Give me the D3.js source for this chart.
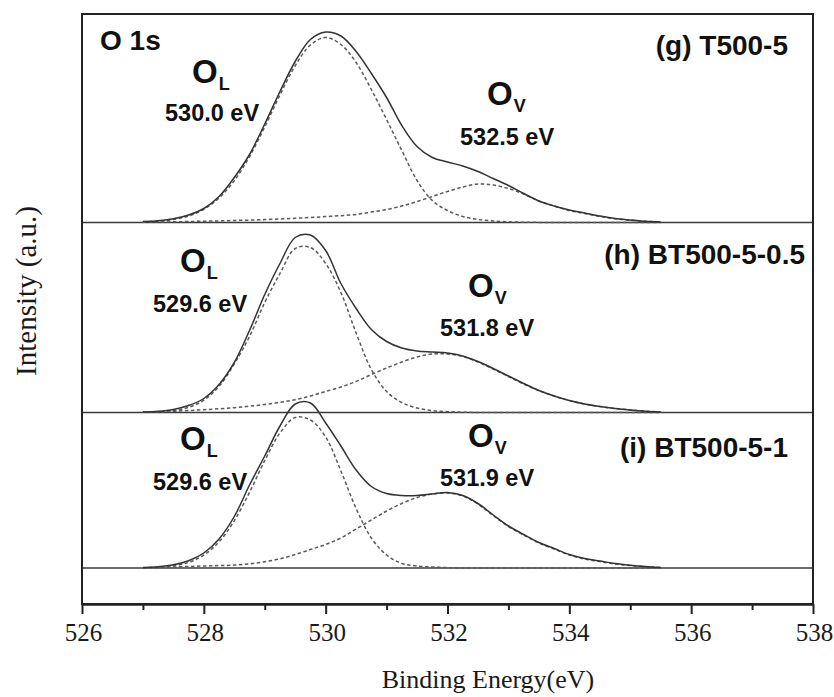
<!DOCTYPE html>
<html>
<head>
<meta charset="utf-8">
<script src="https://cdn.jsdelivr.net/npm/d3@7"></script>
<style>
  html, body { margin: 0; padding: 0; background: #ffffff; }
  svg { display: block; }
</style>
</head>
<body>
<svg id="chart" width="834" height="697"></svg>
<script>
// ---- data -------------------------------------------------------------
// Binding energy grid (eV)
const energy = [527.0, 527.25, 527.5, 527.75, 528.0, 528.25, 528.5, 528.75, 529.0, 529.25,
                529.5, 529.75, 530.0, 530.25, 530.5, 530.75, 531.0, 531.25, 531.5, 531.75,
                532.0, 532.25, 532.5, 532.75, 533.0, 533.25, 533.5, 533.75, 534.0, 534.25,
                534.5, 534.75, 535.0, 535.25, 535.5];

// Sample names, top to bottom
const sampleLabels = ["(g) T500-5", "(h) BT500-5-0.5", "(i) BT500-5-1"];
// Fitted peak positions
const latticePeakLabels = ["530.0 eV", "529.6 eV", "529.6 eV"];
const vacancyPeakLabels = ["532.5 eV", "531.8 eV", "531.9 eV"];
// Vertical stacking offset of each spectrum (a.u.)
const stackOffset = [381.5, 191.5, 36];

// (g) T500-5
const envelopeG = [1, 1.8, 3.7, 7.5, 14, 26, 45, 68, 98.5, 131,
                   161, 183, 190.5, 186.5, 171, 149, 125, 97, 76, 65,
                   60.5, 56.5, 51, 44, 37, 29, 21.5, 16.5, 12.5, 9.5,
                   6.5, 4, 2.5, 1.2, 0.5];
const latticeG  = [0.5, 1.3, 3.0, 6.5, 13.2, 24.5, 41.9, 65.9, 95.6, 127.6,
                   156.8, 177.5, 185, 178, 160, 133, 103, 72, 42, 22,
                   12, 6, 3, 1.5, 0.7, 0.3, 0.1, 0, 0, 0,
                   0, 0, 0, 0, 0];
const vacancyG  = [0.3, 0.5, 0.7, 1.0, 1.3, 1.6, 2.0, 2.4, 2.9, 3.5,
                   4.2, 5.0, 5.9, 6.8, 8.0, 10.5, 13, 16.5, 21, 26,
                   31, 35.5, 38.5, 37.5, 34, 28.5, 21.5, 16.5, 12, 9,
                   6, 3.8, 2.3, 1.2, 0.5];

// (h) BT500-5-0.5
const envelopeH = [0.5, 1.2, 3.1, 7, 14, 28, 50, 82, 118, 149,
                   175, 177.5, 162, 129, 104, 83, 71, 64.5, 61.5, 60.5,
                   59.5, 56.5, 51, 44, 36.5, 29, 22, 16.5, 12, 8.5,
                   6, 4, 2.5, 1.3, 0.5];
const latticeH  = [0.2, 0.6, 1.9, 5.1, 12.3, 26.1, 48.7, 76, 110, 139,
                   164, 165, 149, 120, 79.5, 43, 21, 10, 4.5, 1.8,
                   0.8, 0.3, 0, 0, 0, 0, 0, 0, 0, 0,
                   0, 0, 0, 0, 0];
const vacancyH  = [0.3, 0.6, 1.2, 2.0, 2.8, 3.7, 4.8, 6.3, 8.0, 10.2,
                   12.8, 16.5, 21, 25.5, 31, 38, 44.5, 50.5, 55.5, 58.5,
                   58.5, 56, 50.5, 43.5, 36, 28.5, 22, 16.5, 12, 8.5,
                   6, 4, 2.5, 1.3, 0.5];

// (i) BT500-5-1
const envelopeI = [0.5, 1.3, 3.2, 7.3, 15, 29, 51.5, 83, 112, 142,
                   164, 165, 145, 122, 98, 81.5, 74.5, 72.5, 72.5, 74,
                   75.5, 72.5, 64.5, 53, 42, 33.5, 25.5, 19.5, 13.5, 9.5,
                   7, 4.5, 2.8, 1.5, 0.6];
const latticeI  = [0.2, 0.7, 2.2, 5.6, 12.9, 26.2, 47.3, 75.7, 107.4, 135,
                   150.5, 148, 131, 97, 59.5, 30, 13, 4.5, 2, 1,
                   0.4, 0, 0, 0, 0, 0, 0, 0, 0, 0,
                   0, 0, 0, 0, 0];
const vacancyI  = [0.3, 0.6, 1.0, 1.5, 2.0, 2.4, 2.9, 4.2, 6.3, 9.2,
                   13.5, 18.5, 23.5, 30, 39, 48, 57, 64.5, 70.5, 74,
                   75, 72, 64, 52.5, 41.5, 33, 25, 19, 13, 9,
                   6.5, 4, 2.5, 1.3, 0.5];

// Axis ticks
const xTicks = [526, 528, 530, 532, 534, 536, 538];
const xMinorTicks = [527, 529, 531, 533, 535, 537];

// ---- drawing ----------------------------------------------------------
const svg = d3.select("#chart");
const plot = { left: 82, right: 813, top: 14, bottom: 604 };

const x = d3.scaleLinear().domain([526, 538]).range([plot.left, plot.right]);
const y = d3.scaleLinear().domain([0, 590]).range([plot.bottom, plot.top]);

const spectra = [
  { envelope: envelopeG, lattice: latticeG, vacancy: vacancyG },
  { envelope: envelopeH, lattice: latticeH, vacancy: vacancyH },
  { envelope: envelopeI, lattice: latticeI, vacancy: vacancyI }
];

const sans = "'Liberation Sans', Arial, Helvetica, sans-serif";
const serif = "'Liberation Serif', 'Times New Roman', Times, serif";

// text placement for each panel (pixels)
const textLayout = [
  { ol: [192, 83], olEv: [165, 121], ov: [487, 105], ovEv: [460, 145], name: [788, 55] },
  { ol: [180, 272], olEv: [153, 312], ov: [468, 297], ovEv: [440, 336], name: [805, 264] },
  { ol: [180, 450], olEv: [153, 490], ov: [468, 447], ovEv: [440, 486], name: [788, 457] }
];

const curves = svg.append("g").attr("class", "curves");

spectra.forEach((s, i) => {
  const off = stackOffset[i];
  const line = d3.line()
    .x((d, k) => x(energy[k]))
    .y(d => y(d + off))
    .curve(d3.curveCatmullRom.alpha(0.5));

  // baseline of the stacked spectrum
  curves.append("line")
    .attr("x1", x(526)).attr("x2", x(538))
    .attr("y1", y(off)).attr("y2", y(off))
    .attr("stroke", "#3a3a3a").attr("stroke-width", 1.6);

  // fitted components
  [s.lattice, s.vacancy].forEach(comp => {
    curves.append("path")
      .datum(comp)
      .attr("d", line)
      .attr("fill", "none")
      .attr("stroke", "#5a5a5a")
      .attr("stroke-width", 1.5)
      .attr("stroke-dasharray", "3.5,2.5");
  });

  // measured envelope
  curves.append("path")
    .datum(s.envelope)
    .attr("d", line)
    .attr("fill", "none")
    .attr("stroke", "#333333")
    .attr("stroke-width", 1.5);
});

// plot frame
svg.append("rect")
  .attr("x", plot.left).attr("y", plot.top)
  .attr("width", plot.right - plot.left)
  .attr("height", plot.bottom - plot.top)
  .attr("fill", "none")
  .attr("stroke", "#222")
  .attr("stroke-width", 2);

// bottom axis: major and minor ticks
const axisMajor = svg.append("g")
  .attr("transform", `translate(0,${plot.bottom})`)
  .call(d3.axisBottom(x).tickValues(xTicks).tickSize(10).tickSizeOuter(0).tickFormat(d3.format("d")));
const axisMinor = svg.append("g")
  .attr("transform", `translate(0,${plot.bottom})`)
  .call(d3.axisBottom(x).tickValues(xMinorTicks).tickSize(6).tickSizeOuter(0).tickFormat(""));

[axisMajor, axisMinor].forEach(g => {
  g.select(".domain").attr("stroke", "#222").attr("stroke-width", 2);
  g.selectAll(".tick line").attr("stroke", "#222").attr("stroke-width", 2);
});
axisMajor.selectAll(".tick text")
  .attr("y", 37).attr("dy", 0).attr("dx", 1)
  .attr("fill", "#1a1a1a")
  .style("font-family", serif)
  .style("font-size", "25px");

// axis titles
svg.append("text")
  .attr("x", 488).attr("y", 688)
  .attr("text-anchor", "middle")
  .attr("fill", "#1a1a1a")
  .style("font-family", serif).style("font-size", "26px")
  .text("Binding Energy(eV)");

svg.append("text")
  .attr("transform", "translate(35.5,291) rotate(-90)")
  .attr("text-anchor", "middle")
  .attr("fill", "#1a1a1a")
  .style("font-family", serif).style("font-size", "29px")
  .text("Intensity (a.u.)");

// annotations
const notes = svg.append("g")
  .style("font-family", sans).style("font-weight", "bold").attr("fill", "#111");

notes.append("text")
  .attr("x", 100).attr("y", 50)
  .style("font-size", "28px")
  .text("O 1s");

textLayout.forEach((t, i) => {
  const ol = notes.append("text").attr("x", t.ol[0]).attr("y", t.ol[1]).style("font-size", "33px");
  ol.append("tspan").text("O");
  ol.append("tspan").attr("dx", 1).attr("dy", 7).style("font-size", "18px").text("L");

  notes.append("text").attr("x", t.olEv[0]).attr("y", t.olEv[1])
    .style("font-size", "23.5px").text(latticePeakLabels[i]);

  const ov = notes.append("text").attr("x", t.ov[0]).attr("y", t.ov[1]).style("font-size", "33px");
  ov.append("tspan").text("O");
  ov.append("tspan").attr("dx", 1).attr("dy", 7).style("font-size", "18px").text("V");

  notes.append("text").attr("x", t.ovEv[0]).attr("y", t.ovEv[1])
    .style("font-size", "23.5px").text(vacancyPeakLabels[i]);

  notes.append("text").attr("x", t.name[0]).attr("y", t.name[1])
    .attr("text-anchor", "end")
    .style("font-size", "28px").text(sampleLabels[i]);
});
</script>
</body>
</html>
